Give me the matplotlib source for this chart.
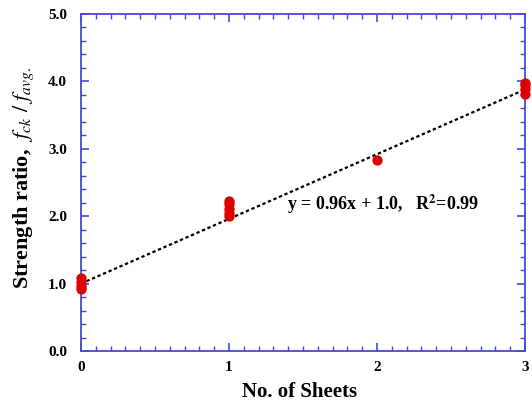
import matplotlib
matplotlib.use("Agg")
import matplotlib.pyplot as plt
from matplotlib.ticker import MultipleLocator, FormatStrFormatter

plt.rcParams['font.family'] = ['Liberation Serif', 'DejaVu Serif']
plt.rcParams['mathtext.fontset'] = 'stix'

# data
x0 = [0, 0, 0, 0]
y0 = [0.92, 0.97, 1.02, 1.08]
x1 = [1, 1, 1, 1, 1]
y1 = [2.00, 2.05, 2.10, 2.18, 2.23]
x2 = [2]
y2 = [2.84]
x3 = [3, 3, 3, 3]
y3 = [3.82, 3.88, 3.94, 3.98]
slope, intercept = 0.96, 1.0
fit_x = [0, 3]
eq_text = r"y = 0.96x + 1.0,   R$^{\mathbf{2}}$=0.99"

xs = x0 + x1 + x2 + x3
ys = y0 + y1 + y2 + y3

fig = plt.figure(figsize=(5.32, 4.07), dpi=100)
ax = fig.add_axes([81/532, 1-351/407, (525-81)/532, (351-14)/407])

fy = [slope*v + intercept for v in fit_x]
ax.plot(fit_x, fy, linestyle=(0, (1.5, 1.2)), color='black', lw=1.6, zorder=2)
ax.scatter(xs, ys, s=55, color='#dd0000', zorder=3, clip_on=False, linewidths=0)

ax.set_xlim(0, 3)
ax.set_ylim(0, 5)
ax.xaxis.set_major_locator(MultipleLocator(1))
ax.xaxis.set_minor_locator(MultipleLocator(0.1))
ax.yaxis.set_major_locator(MultipleLocator(1))
ax.yaxis.set_minor_locator(MultipleLocator(0.2))
ax.yaxis.set_major_formatter(FormatStrFormatter('%.1f'))

blue = '#4848dd'
for s in ax.spines.values():
    s.set_color(blue)
    s.set_linewidth(1.3)
ax.tick_params(which='both', direction='in', top=True, right=True, color=blue,
               labelcolor='black')
ax.tick_params(which='major', length=6, width=1.2, labelsize=11)
ax.tick_params(axis='x', which='major', pad=7)
ax.tick_params(axis='y', which='major', pad=10)
ax.tick_params(which='minor', length=3.5, width=1.0)
for lab in ax.get_xticklabels() + ax.get_yticklabels():
    lab.set_fontweight('bold')

ax.set_xlabel('No. of Sheets', fontsize=15, fontweight='bold', va='center')
ax.xaxis.set_label_coords(0.493, (351-392)/337)
ax.set_ylabel(r'Strength ratio,  $f_{ck}\ /\ f_{avg.}$',
              fontsize=16, fontweight='bold', va='center')
ax.yaxis.set_label_coords((24-81)/444, (351-178)/337)

ax.text(1.39, 2.17, eq_text, fontsize=13, fontweight='bold', va='center', ha='left')

fig.savefig('out.png', dpi=100)
